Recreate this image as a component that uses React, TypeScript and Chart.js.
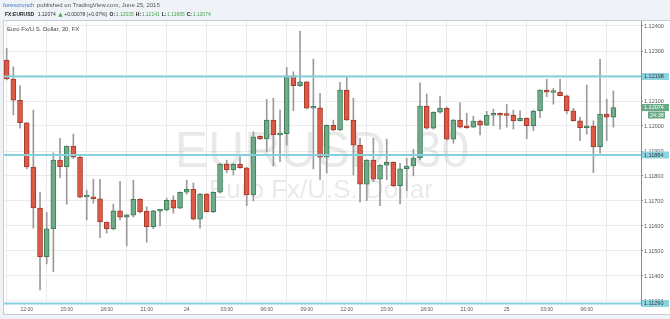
import React, { useEffect, useRef } from 'react';
import { Chart, registerables } from 'chart.js';

Chart.register(...registerables);

// 30-minute EUR/USD candles, Jun 23 10:30 -> Jun 25 08:00
const opens = [
  1.12264, 1.12188, 1.12103, 1.12013, 1.11836, 1.11672, 1.11477, 1.11589, 1.11864, 1.11837,
  1.1192, 1.11875, 1.11716, 1.11717, 1.11709, 1.11616, 1.11589, 1.11661, 1.11635, 1.11643,
  1.11707, 1.11659, 1.11597, 1.11659, 1.11664, 1.11704, 1.11671, 1.11735, 1.11747, 1.11627,
  1.11728, 1.11657, 1.11735, 1.11848, 1.11824, 1.11847, 1.11833, 1.11724, 1.11959, 1.11948,
  1.12024, 1.11964, 1.11969, 1.12201, 1.12161, 1.12177, 1.12071, 1.12073, 1.11875, 1.12003,
  1.11984, 1.12144, 1.12024, 1.11923, 1.11767, 1.11864, 1.11787, 1.11843, 1.11855, 1.11761,
  1.11829, 1.1184, 1.11872, 1.1208, 1.11991, 1.12055, 1.12071, 1.11947, 1.12024, 1.11995,
  1.11995, 1.1202, 1.12003, 1.12043, 1.12051, 1.12044, 1.12043, 1.12021, 1.12031, 1.12001,
  1.1206, 1.12144, 1.12134, 1.12136, 1.12121, 1.12061, 1.12021, 1.11993, 1.12, 1.11917,
  1.12048, 1.12035,
];
const highs = [
  1.12311, 1.12237, 1.12161, 1.12015, 1.12064, 1.11736, 1.11655, 1.11893, 1.11951, 1.1192,
  1.11968, 1.1188, 1.11744, 1.11787, 1.11787, 1.11616, 1.11688, 1.11779, 1.11646, 1.11784,
  1.1171, 1.11677, 1.11663, 1.11664, 1.11712, 1.11721, 1.11737, 1.11784, 1.11773, 1.11731,
  1.11731, 1.11737, 1.11851, 1.11864, 1.1185, 1.11877, 1.11836, 1.11977, 1.11961, 1.12107,
  1.12111, 1.12064, 1.12235, 1.12217, 1.1238, 1.12179, 1.12268, 1.12131, 1.12005, 1.12024,
  1.12175, 1.12195, 1.12111, 1.11951, 1.11866, 1.11951, 1.11846, 1.11948, 1.11857, 1.11851,
  1.11871, 1.11907, 1.12173, 1.12128, 1.12057, 1.1212, 1.12077, 1.12027, 1.12093, 1.12051,
  1.1204, 1.12024, 1.12059, 1.12068, 1.12053, 1.12087, 1.12064, 1.12061, 1.12033, 1.12064,
  1.12146, 1.12187, 1.12151, 1.12187, 1.12124, 1.12071, 1.12035, 1.12164, 1.12021, 1.12267,
  1.12108, 1.12141,
];
const lows = [
  1.12184, 1.12044, 1.11991, 1.11828, 1.11591, 1.11344, 1.11448, 1.11417, 1.11793, 1.11687,
  1.1187, 1.11712, 1.11624, 1.11691, 1.11553, 1.11571, 1.11584, 1.11624, 1.1152, 1.11635,
  1.11652, 1.11535, 1.11589, 1.116, 1.1166, 1.11651, 1.11669, 1.11727, 1.11624, 1.11591,
  1.11655, 1.11653, 1.11731, 1.11813, 1.11804, 1.1183, 1.11681, 1.117, 1.11946, 1.11897,
  1.11841, 1.11857, 1.11923, 1.12061, 1.12157, 1.12068, 1.11828, 1.11784, 1.11811, 1.11981,
  1.11981, 1.12021, 1.11804, 1.11695, 1.11701, 1.11777, 1.11681, 1.11784, 1.11757, 1.11688,
  1.11741, 1.118, 1.11864, 1.11987, 1.11987, 1.12051, 1.11944, 1.11931, 1.11992, 1.1199,
  1.11993, 1.11964, 1.12001, 1.12001, 1.11987, 1.11995, 1.11987, 1.12019, 1.11949, 1.11981,
  1.12033, 1.12117, 1.12087, 1.1212, 1.12048, 1.12019, 1.11941, 1.11967, 1.11813, 1.11891,
  1.11941, 1.11995,
];
const closes = [
  1.12188, 1.12103, 1.12013, 1.11836, 1.11672, 1.11477, 1.11589, 1.11864, 1.11837, 1.1192,
  1.11875, 1.11715, 1.11718, 1.11709, 1.11616, 1.11589, 1.11661, 1.11635, 1.11645, 1.11707,
  1.11656, 1.11597, 1.11661, 1.11664, 1.11703, 1.11671, 1.11735, 1.11747, 1.11627, 1.11728,
  1.11657, 1.11735, 1.11848, 1.11824, 1.11847, 1.11833, 1.11724, 1.11957, 1.11948, 1.12024,
  1.11964, 1.11969, 1.12201, 1.12161, 1.12177, 1.12071, 1.12073, 1.11875, 1.12003, 1.11984,
  1.12144, 1.12024, 1.11923, 1.11767, 1.11864, 1.11787, 1.11844, 1.11855, 1.11761, 1.11829,
  1.1184, 1.11872, 1.1208, 1.11991, 1.12055, 1.12071, 1.11947, 1.12024, 1.11995, 1.11993,
  1.1202, 1.12003, 1.12043, 1.12051, 1.12043, 1.12042, 1.12021, 1.12031, 1.12001, 1.1206,
  1.12144, 1.12135, 1.12136, 1.12121, 1.12061, 1.12021, 1.11993, 1.12, 1.11917, 1.12048,
  1.12035, 1.12074,
];

const timeTickIndex = [3, 9, 15, 21, 27, 33, 39, 45, 51, 57, 63, 69, 75, 81, 87];
const timeTickLabels = ['12:00', '15:00', '18:00', '21:00', '24', '03:00', '06:00', '09:00', '12:00', '15:00', '18:00', '21:00', '25', '03:00', '06:00'];
const priceTicks = [1.113, 1.114, 1.115, 1.116, 1.117, 1.118, 1.119, 1.12, 1.121, 1.122, 1.123, 1.124];
const levelLines = [1.12198, 1.11884, 1.1129];

const X_MIN = -0.405;
const X_MAX = 95.14;
const Y_MIN = 1.11282;
const Y_MAX = 1.1242;

const UP_FILL = '#6fab89';
const UP_EDGE = '#3f7d58';
const DOWN_FILL = '#dc5a45';
const DOWN_EDGE = '#a6392b';
const LEVEL = '#86d0dd';
const FONT = '"Liberation Sans", Arial, sans-serif';

const decorPlugin = {
  id: 'decor',
  beforeDraw(chart: any) {
    const ctx = chart.ctx;
    ctx.save();
    ctx.fillStyle = '#eff2f6';
    ctx.fillRect(0, 0, chart.width, chart.height);
    ctx.fillStyle = '#ffffff';
    ctx.fillRect(3, 20, chart.width - 3, 295);
    ctx.strokeStyle = '#c6ccd4';
    ctx.lineWidth = 1;
    ctx.strokeRect(3.5, 20.5, chart.width, 294);
    ctx.restore();
  },
  beforeDatasetsDraw(chart: any) {
    const ctx = chart.ctx;
    const a = chart.chartArea;
    ctx.save();
    ctx.beginPath();
    ctx.rect(a.left, a.top, a.right - a.left, a.bottom - a.top);
    ctx.clip();
    ctx.fillStyle = 'rgba(0,0,0,0.085)';
    ctx.textAlign = 'center';
    ctx.textBaseline = 'alphabetic';
    ctx.font = `50px ${FONT}`;
    ctx.fillText('EURUSD, 30', 322, 167);
    ctx.font = `26px ${FONT}`;
    ctx.fillText('Euro Fx/U.S. Dollar', 321, 198);
    ctx.restore();
  },
  afterDraw(chart: any) {
    const ctx = chart.ctx;
    const ys = chart.scales.y;
    ctx.save();
    ctx.textBaseline = 'middle';
    ctx.textAlign = 'left';
    // header line 1
    ctx.font = `6px ${FONT}`;
    ctx.fillStyle = '#3b78b8';
    ctx.fillText('forexcrunch', 3, 5.5);
    ctx.fillStyle = '#555';
    ctx.fillText('published on TradingView.com, June 25, 2015', 37, 5.5);
    // header line 2 (laid out sequentially)
    const y2 = 15;
    const green = '#45a84e';
    let cx = 5;
    const put = (t: string, col: string, bold = false, gap = 0) => {
      ctx.font = `${bold ? 'bold ' : ''}5px ${FONT}`;
      ctx.fillStyle = col;
      ctx.fillText(t, cx, y2);
      cx += ctx.measureText(t).width + gap;
    };
    put('FX:EURUSD', '#222', true, 3.5);
    put('1.12074', '#333', false, 2.5);
    ctx.fillStyle = green;
    ctx.beginPath();
    ctx.moveTo(cx, 16.8);
    ctx.lineTo(cx + 4.4, 16.8);
    ctx.lineTo(cx + 2.2, 12.8);
    ctx.closePath();
    ctx.fill();
    cx += 6;
    put('+0.00078 (+0.07%)', '#333', false, 2.5);
    put('O:', '#222', true, 0.6);
    put('1.12035', green, false, 2);
    put('H:', '#222', true, 0.6);
    put('1.12141', green, false, 2);
    put('L:', '#222', true, 0.6);
    put('1.11995', green, false, 2);
    put('C:', '#222', true, 0.6);
    put('1.12074', green, false, 0);
    // panel title
    ctx.font = `6px ${FONT}`;
    ctx.fillStyle = '#444';
    ctx.fillText('Euro Fx/U.S. Dollar, 30, FX', 7, 29.5);

    // price labels on the right axis
    const boxX = chart.chartArea.right;
    ctx.font = `5.5px ${FONT}`;
    levelLines.forEach((v) => {
      const py = ys.getPixelForValue(v);
      ctx.fillStyle = '#8ed4e0';
      ctx.fillRect(boxX + 1, py - 3.5, 27, 7);
      ctx.fillStyle = '#2d3a40';
      ctx.fillText(v.toFixed(5), boxX + 3, py + 0.3);
    });
    const last = closes[closes.length - 1];
    const ly = ys.getPixelForValue(last);
    ctx.fillStyle = '#6aa986';
    ctx.fillRect(boxX + 1, ly - 3.5, 27, 7);
    ctx.fillRect(boxX + 7, ly + 4, 17, 7);
    ctx.fillStyle = '#ffffff';
    ctx.fillText(last.toFixed(5), boxX + 3, ly + 0.3);
    ctx.fillText('24:38', boxX + 9, ly + 7.8);
    ctx.restore();
  },
};

export default function App() {
  const ref = useRef<HTMLCanvasElement | null>(null);

  useEffect(() => {
    if (!ref.current) return;
    const wickData = opens.map((_, i) => ({ x: i, y: [lows[i], highs[i]] }));
    const bodyData = opens.map((o, i) => ({ x: i, y: [o, closes[i]] }));
    const isUp = (i: number) => closes[i] >= opens[i];

    const levelSets = levelLines.map((v) => ({
      type: 'line' as const,
      data: [
        { x: X_MIN, y: v },
        { x: X_MAX, y: v },
      ],
      borderColor: LEVEL,
      borderWidth: 2,
      pointRadius: 0,
      order: 0,
    }));

    const chart = new Chart(ref.current, {
      type: 'bar',
      data: {
        datasets: [
          ...levelSets,
          {
            type: 'bar',
            data: bodyData as any,
            backgroundColor: (c: any) => (isUp(c.dataIndex) ? UP_FILL : DOWN_FILL),
            borderColor: (c: any) => (isUp(c.dataIndex) ? UP_EDGE : DOWN_EDGE),
            borderWidth: 1,
            borderSkipped: false,
            minBarLength: 2,
            barThickness: 5,
            grouped: false,
            order: 1,
          },
          {
            type: 'bar',
            data: wickData as any,
            backgroundColor: '#9a9a9a',
            borderWidth: 0,
            barThickness: 1,
            grouped: false,
            order: 2,
          },
        ] as any,
      },
      options: {
        animation: false,
        responsive: false,
        maintainAspectRatio: false,
        layout: { padding: { top: 21, left: 4, right: 0, bottom: 5 } },
        plugins: { legend: { display: false }, tooltip: { enabled: false } },
        scales: {
          x: {
            type: 'linear',
            min: X_MIN,
            max: X_MAX,
            offset: false,
            afterBuildTicks: (s: any) => {
              s.ticks = timeTickIndex.map((v) => ({ value: v }));
            },
            afterFit: (s: any) => {
              s.height = 8.5;
            },
            ticks: {
              autoSkip: false,
              maxRotation: 0,
              padding: 1.5,
              color: '#555',
              font: { size: 5, family: FONT },
              callback: (v: any) => {
                const k = timeTickIndex.indexOf(Number(v));
                return k >= 0 ? timeTickLabels[k] : '';
              },
            },
            grid: { color: '#ececec', drawTicks: false, lineWidth: 1 },
            border: { display: false },
          },
          y: {
            type: 'linear',
            position: 'right',
            min: Y_MIN,
            max: Y_MAX,
            afterBuildTicks: (s: any) => {
              s.ticks = priceTicks.map((v) => ({ value: v }));
            },
            afterFit: (s: any) => {
              s.width = 29;
            },
            ticks: {
              padding: 1,
              color: '#555',
              font: { size: 5.5, family: FONT },
              callback: (v: any) => Number(v).toFixed(5),
            },
            grid: { color: '#ececec', tickColor: '#8a8a8a', tickLength: 2, lineWidth: 1 },
            border: { display: true, color: '#8a8a8a', width: 1 },
          },
        },
      } as any,
      plugins: [decorPlugin],
    });
    return () => chart.destroy();
  }, []);

  return (
    <div style={{ position: 'fixed', left: 0, top: 0, width: 670, height: 319, background: '#eff2f6' }}>
      <canvas ref={ref} width={670} height={319} style={{ display: 'block', width: 670, height: 319 }} />
    </div>
  );
}
